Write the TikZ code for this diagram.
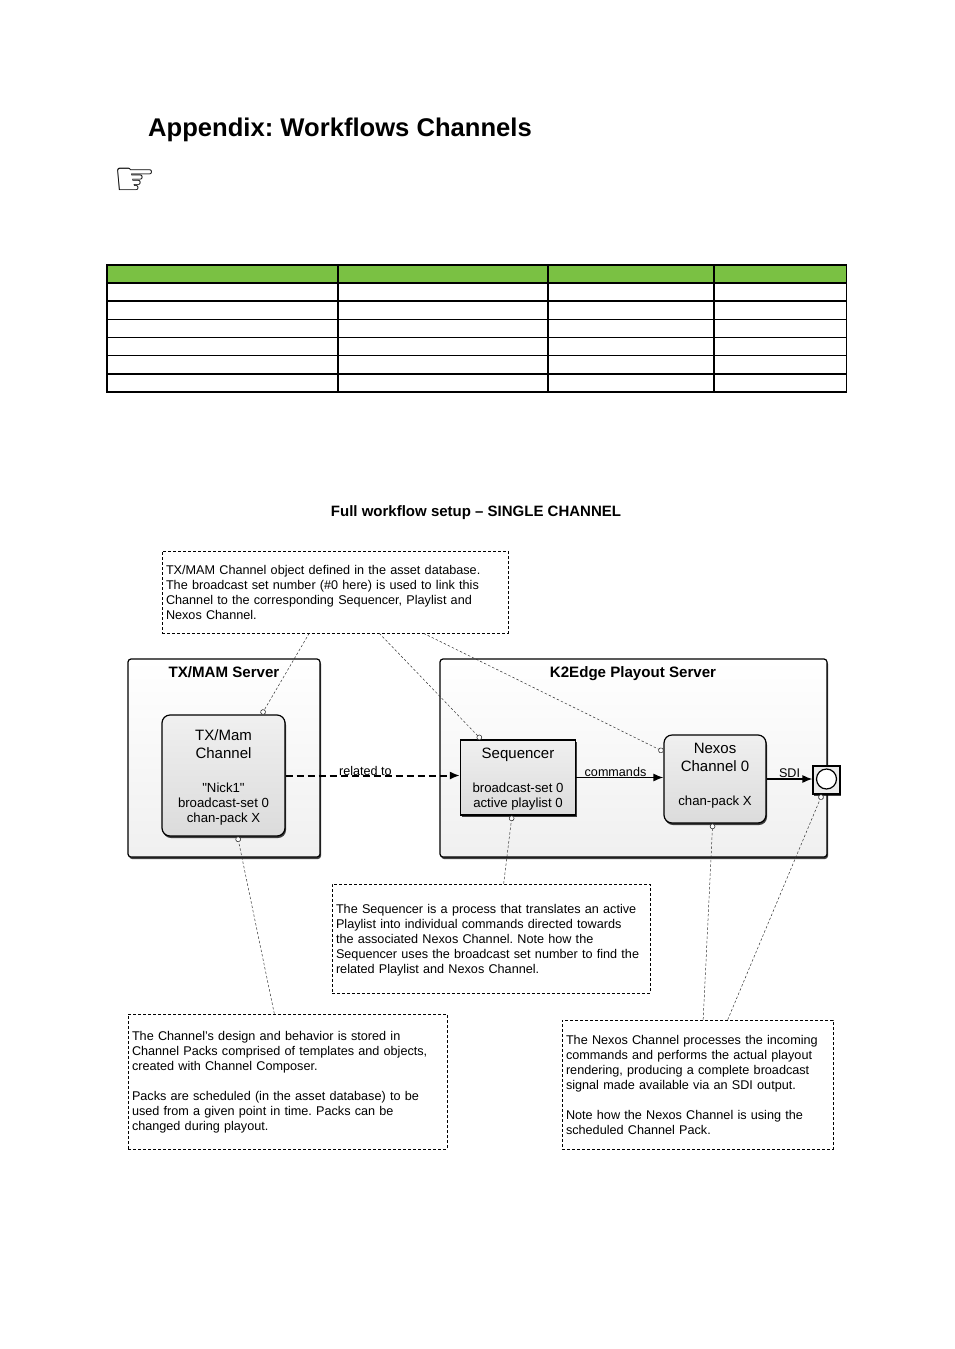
\documentclass[tikz,border=0pt]{standalone}
\usepackage{fontspec}
\setmainfont{Liberation Sans}
\newfontfamily\symfont{DejaVu Sans}
\newfontfamily\plainfont{Liberation Sans}
\usetikzlibrary{shapes, arrows.meta, shadows}
\AtBeginDocument{\frenchspacing}

\definecolor{headgreen}{RGB}{122,193,67}
\newcommand{\bigfont}{\fontsize{15}{15}\selectfont}
\newcommand{\drop}[1]{\rule{0pt}{#1}}
\tikzset{
  every node/.style={font=\fontsize{12.65}{15}\selectfont},
  softshadow/.style={drop shadow={shadow xshift=1pt, shadow yshift=-2pt, opacity=0.75, fill=black}},
  panel/.style={draw, line width=1.2pt, rounded corners=3pt, top color=white, bottom color=black!6, softshadow},
  block/.style={draw, line width=1.2pt, top color=black!6, bottom color=black!14, align=center, softshadow, font=\fontsize{13.2}{15}\selectfont},
  roundblock/.style={block, rounded corners=8pt},
  note/.style={draw, line width=0.6pt, dash pattern=on 3pt off 2pt, align=left, inner xsep=4pt, inner ysep=3.5pt},
  paneltitle/.style={font=\fontsize{15.1}{15}\selectfont\bfseries},
  edgetext/.style={inner sep=1pt, font=\fontsize{12.6}{15}\selectfont},
  link/.style={line width=1.3pt, -{Latex[length=10pt, width=8pt]}},
  pointer/.style={line width=0.5pt, black!80, dash pattern=on 2.5pt off 2pt, -{Circle[open, fill=white, length=5.5pt, width=5.5pt, line width=0.6pt]}}
}

\begin{document}
\begin{tikzpicture}[x=1pt, y=-1pt]
\useasboundingbox (0,0) rectangle (954,1349);

\node[font=\fontsize{25.6}{30}\selectfont\bfseries, anchor=west, inner sep=0pt] (title) at (148,130) {Appendix: Workflows Channels};
\node[font=\fontsize{48}{48}\symfont, inner sep=0pt] (hand) at (135,182) {☞};

% empty table
\fill[headgreen] (107,265) rectangle (847,283);
\foreach \y in {265,283,301,374,392} \draw[line width=1.5pt] (106.25,\y) -- (847.25,\y);
\foreach \y in {319.5,337.5,355.5} \draw[line width=0.9pt] (107,\y) -- (847,\y);
\foreach \x in {107,338,548,714,846.5} \draw[line width=1.5pt] (\x,265) -- (\x,392);

\node[font=\fontsize{15}{15}\selectfont\bfseries] (caption) at (476,513) {Full workflow setup -- SINGLE CHANNEL};

\node[note, text width=338pt, minimum height=82pt] (notetop) at (335,592) {TX/MAM Channel object defined in the asset database.\\The broadcast set number (\#0 here) is used to link this\\Channel to the corresponding Sequencer, Playlist and\\Nexos Channel.};

\node[panel, minimum width=192pt, minimum height=198pt] (txserver) at (224,758) {};
\node[panel, minimum width=387pt, minimum height=198pt] (k2server) at (633.5,758) {};
\node[paneltitle] (txtitle) at (224,672) {TX/MAM Server};
\node[paneltitle] (k2title) at (633,674) {K2Edge Playout Server};

\node[roundblock, minimum width=123pt, minimum height=121pt] (chan) at (223.5,775.5) {\bigfont\drop{14pt}TX/Mam\\[3pt]\bigfont Channel\\[19pt]\plainfont"Nick1"\\broadcast-set 0\\chan-pack X};
\node[block, minimum width=115pt, minimum height=75pt] (seq) at (518,777.5) {\bigfont\drop{14pt}Sequencer\\[19pt]broadcast-set 0\\active playlist 0};
\node[roundblock, minimum width=102pt, minimum height=88pt] (nexos) at (715,779) {\bigfont Nexos\\[3pt]\bigfont Channel 0\\[19pt]chan-pack X\rule[-9.6pt]{0pt}{9.6pt}};
\node[draw, line width=1.2pt, fill=black!8, minimum width=27pt, minimum height=28pt, softshadow] (port) at (826.5,780) {};
\node[circle, draw, line width=1.2pt, fill=white, minimum size=20pt, inner sep=0pt] (sdiout) at (826.5,779) {};

\draw[link, line width=2pt, dash pattern=on 7pt off 4pt] (chan.east) -- (seq.west |- chan.east);
\draw[link] (seq.east) -- (nexos.west |- seq.east);
\draw[link] (nexos.east) -- (port.west |- nexos.east);
\node[edgetext] (relatedlabel) at (365.5,771) {related to};
\node[edgetext] (cmdlabel) at (615.5,772) {commands};
\node[edgetext] (sdilabel) at (789.5,773) {SDI};

\node[note, text width=310pt, minimum height=109pt] (noteseq) at (491,938.5) {\drop{13.5pt}The Sequencer is a process that translates an active\\Playlist into individual commands directed towards\\the associated Nexos Channel. Note how the\\Sequencer uses the broadcast set number to find the\\related Playlist and Nexos Channel.};
\node[note, text width=311pt, minimum height=135pt] (notechan) at (287.5,1081.5) {\drop{11.5pt}The Channel's design and behavior is stored in\\Channel Packs comprised of templates and objects,\\created with Channel Composer.\\[15pt]Packs are scheduled (in the asset database) to be\\used from a given point in time. Packs can be\\changed during playout.};
\node[note, text width=263pt, minimum height=129pt] (notenex) at (697.5,1084.5) {The Nexos Channel processes the incoming\\commands and performs the actual playout\\rendering, producing a complete broadcast\\signal made available via an SDI output.\\[15pt]Note how the Nexos Channel is using the\\scheduled Channel Pack.};

\draw[pointer] (notetop.238.6) -- (chan.58.9);
\draw[pointer] (notetop.-43.6) -- (seq.134.6);
\draw[pointer] (notetop.-25.5) -- (nexos.152.1);
\draw[pointer] (noteseq.77.6) -- (seq.-99.8);
\draw[pointer] (notechan.101.3) -- (chan.-77.4);
\draw[pointer] (notenex.85.1) -- (nexos.-93.9);
\draw[pointer] (notenex.65.4) -- (port.-107.8);
\end{tikzpicture}
\end{document}
